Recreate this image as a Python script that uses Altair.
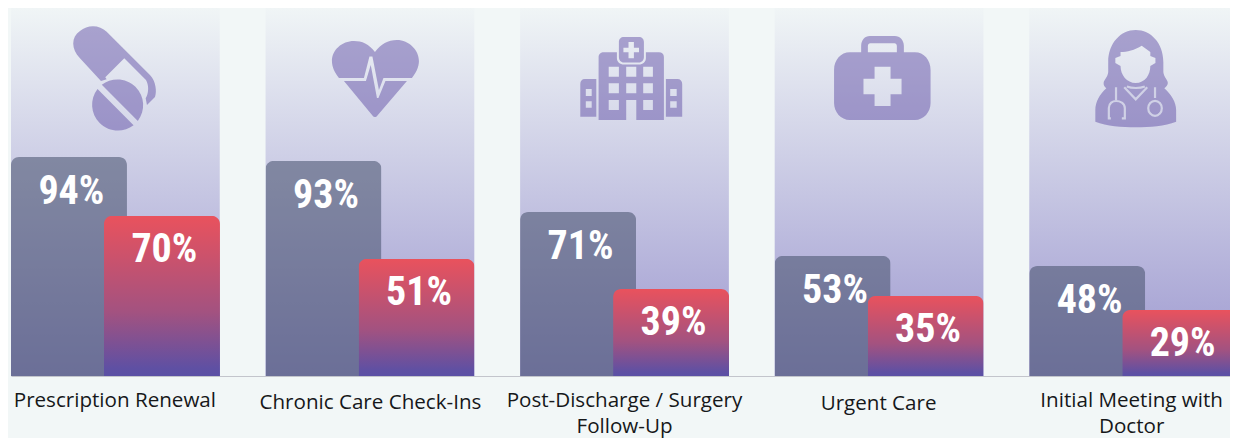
import re
import altair as alt
import pandas as pd

categories = ["Prescription Renewal", "Chronic Care Check-Ins", "Post-Discharge / Surgery Follow-Up", "Urgent Care", "Initial Meeting with Doctor"]
label_lines = [["Prescription Renewal"], ["Chronic Care Check-Ins"], ["Post-Discharge / Surgery", "Follow-Up"], ["Urgent Care"], ["Initial Meeting with", "Doctor"]]
first_labels = ["94%", "93%", "71%", "53%", "48%"]
second_labels = ["70%", "51%", "39%", "35%", "29%"]
# bar heights, in percent
first_values = [95.2, 93.5, 71.3, 52.2, 47.8]
second_values = [69.6, 50.9, 37.8, 34.8, 28.7]

BG = "#f2f7f7"
Y_MAX = 160
PW, PH = 1219, 368


def shift(d, ox, oy):
    out = []
    for cmd, args in re.findall(r"([MLCAZ])([^MLCAZ]*)", d):
        n = [float(v) for v in re.findall(r"-?[\d.]+", args)]
        if cmd == "A":
            parts = [f"{n[0]:.2f}", f"{n[1]:.2f}", "0", str(int(n[3])), str(int(n[4])), f"{n[5] - ox:.2f}", f"{n[6] - oy:.2f}"]
        else:
            parts = [f"{v - (ox if i % 2 == 0 else oy):.2f}" for i, v in enumerate(n)]
        out.append(cmd + " ".join(parts))
    return "".join(out)


def hole(x0, y0, x1, y1):
    return f"M{x0} {y0}L{x0} {y1}L{x1} {y1}L{x1} {y0}Z"


pill = ("M106.7 31.7L150 75C156 81 157 92 155 97L147 105L145.7 98.3C149 93 149 85 146 80L124.3 58.3L105.3 77.3L106.7 79.3L101 81"
        "L80 58.3C71 49 71 37 80 31C88 24 100 25 106.7 31.7Z"
        "M101.8 84.85A25.7 25.7 0 0 1 137.85 120.9Z"
        "M133.6 125.15A25.7 25.7 0 0 1 97.55 89.09Z")

heart = ("M375 52C381 44 388 40 397 40C409 40 419 50 419 61C419 67 416 73 412 78L383.5 78L379 90L372.5 56.5L369.5 56.5L364 78L339 78"
         "C335 73 332 67 332 61C332 50 342 41 354 41C362 41 369 44 375 52Z"
         "M344 81L366 81L370.8 65L377 98L378.5 98L385.5 81L407 81L377.5 115.5C376 117.5 374 117.5 372.5 115.5Z")

hospital = ("M598.7 57C598.7 54 601 52.3 604 52.3L617 52.3L617 58C617 62 620 64.5 624 64.5L639 64.5C643 64.5 646 62 646 58L646 52.3L659 52.3"
            "C662 52.3 664 54 664 57L664 120L636.4 120L636.4 100L626.3 100L626.3 120L598.7 120Z"
            + hole(608.8, 66.7, 619, 76.7) + hole(626.3, 66.7, 636.4, 76.7) + hole(643.3, 66.7, 653, 76.7)
            + hole(608.8, 83.3, 619, 93.3) + hole(626.3, 83.3, 636.4, 93.3) + hole(643.3, 83.3, 653, 93.3)
            + hole(608.8, 100, 619, 110) + hole(643.3, 100, 653, 110)
            + "M619 42C619 39 621 37 624 37L639 37C642 37 644 39 644 42L644 57C644 60 642 62.5 639 62.5L624 62.5C621 62.5 619 60 619 57Z"
            + "M628.6 42L628.6 47.7L623.5 47.7L623.5 52.3L628.6 52.3L628.6 58.3L634 58.3L634 52.3L639.1 52.3L639.1 47.7L634 47.7L634 42Z"
            + "M580.4 84C580.4 81 582 79 585 79L596.4 79L596.4 116.7L580.4 116.7Z" + hole(585.9, 89, 591.8, 96) + hole(585.9, 101.3, 591.8, 107.7)
            + "M666 79L677.5 79C680.5 79 682.3 81 682.3 84L682.3 116.7L666 116.7Z" + hole(670.3, 89, 676.8, 96) + hole(670.3, 101.3, 676.8, 107.7))

kit = ("M850 52.3L861.3 52.3L861.3 46C861.3 40 865 36 870 36L895 36C900 36 904 40 904 46L904 52.3L915 52.3"
       "C924 52.3 930.7 60 930.7 70L930.7 103C930.7 112 924 120 915 120L850 120C841 120 834.2 112 834.2 103L834.2 70C834.2 60 841 52.3 850 52.3Z"
       "M868 52.3L897 52.3L897 46C897 44.5 896 43.3 894.5 43.3L870.5 43.3C869 43.3 868 44.5 868 46Z"
       "M874.7 66.7L874.7 78.7L863.6 78.7L863.6 94.3L874.7 94.3L874.7 106L890.7 106L890.7 94.3L901.7 94.3L901.7 78.7L890.7 78.7L890.7 66.7Z")

doctor = ("M1135.9 30C1151 30 1163.5 43 1163.5 62L1163.5 72C1164 77 1168 80 1168 83C1168 85 1166 87 1164.5 88.3C1171 94 1176.3 102 1176.3 110"
          "L1176.3 121.7C1165 126 1150 127.3 1135.9 127.3C1122 127.3 1107 126 1095.5 121.7L1095.5 110C1095.5 102 1100 94 1106.5 88.3"
          "C1105 87 1103.5 85 1103.8 83C1104 80 1108 77 1108.4 72L1108.4 62C1108.4 43 1121 30 1135.9 30Z"
          "M1141.9 45.7C1135 50 1127 52 1120.7 52L1120.7 56L1115.5 58L1115.5 63L1120.7 66C1120.7 75 1127 83 1135.9 83"
          "C1145 83 1150.5 75 1150.5 66L1155.6 63L1155.6 58L1150.5 56L1150.5 52Z")

doctor_lines = ("M1116.2 87.3L1116.2 100M1111 118.3L1109 118.3L1109 108C1109 103 1113 101 1116.2 101C1120 101 1125 103 1125 108L1125 118.3L1122 118.3"
                "M1155.2 87.3L1155.2 98M1124.4 87.3L1135.9 99.3L1147.4 87.3M1127 86.5C1132 88.5 1140 88.5 1145 86.5"
                "M1162 108.3A6.8 7.5 0 1 1 1148.4 108.3A6.8 7.5 0 1 1 1162 108.3Z")

icon_paths = [shift(pill, 115.4, 85), shift(heart, 370, 85), shift(hospital, 624.6, 85), shift(kit, 879.2, 85), shift(doctor, 1133.8, 85)]
doctor_overlay = shift(doctor_lines, 1133.8, 85)

df = pd.DataFrame({"category": categories, "first": first_values, "second": second_values,
                   "first_label": first_labels, "second_label": second_labels})

x_enc = alt.X("category:N", sort=categories, title=None,
              scale=alt.Scale(paddingInner=0.18, paddingOuter=0, range=[0, 1227]),
              axis=alt.Axis(labels=False, ticks=False, title=None, domain=True, domainColor="#c3c5cc", domainWidth=1.2))
y_scale = alt.Scale(domain=[0, Y_MAX], nice=False)


def vgrad(*stops):
    return alt.Gradient(gradient="linear", x1=0, y1=0, x2=0, y2=1,
                        stops=[alt.GradientStop(offset=o, color=c) for o, c in stops])


base = alt.Chart(df)
panels = base.mark_rect(color=vgrad((0, "#f0f5f6"), (1, "#9c97cf"))).encode(x=x_enc, y=alt.value(0), y2=alt.value(PH))
first_bars = base.mark_bar(width=116, xOffset=-46.4, cornerRadiusTopLeft=8, cornerRadiusTopRight=8,
                           color="#434f69", fillOpacity=0.55).encode(
    x=x_enc, y=alt.Y("first:Q", scale=y_scale, axis=None))
second_bars = base.mark_bar(width=116, xOffset=46.6, cornerRadiusTopLeft=8, cornerRadiusTopRight=8,
                            color=vgrad((0, "#e9525d"), (0.6, "#a35280"), (0.95, "#5f50a3"), (1, "#5b50a5"))).encode(
    x=x_enc, y=alt.Y("second:Q", scale=y_scale, axis=None))

num_font = dict(font="'Noto Sans ExtraCondensed', 'Noto Sans Extra Condensed', 'Roboto Condensed', 'Open Sans Condensed', 'Noto Sans Condensed', 'DejaVu Sans Condensed', sans-serif",
                fontSize=40, fontWeight="bold", color="#ffffff", baseline="middle", align="center")
first_text = base.mark_text(xOffset=-44, yOffset=35, **num_font).encode(
    x=x_enc, y=alt.Y("first:Q", scale=y_scale, axis=None), text="first_label:N")
second_text = base.mark_text(xOffset=49, yOffset=34, **num_font).encode(
    x=x_enc, y=alt.Y("second:Q", scale=y_scale, axis=None), text="second_label:N")

label_dy = [14.5, 17, 15, 18, 15]
label_dx = [-0.5, 0.5, 0, -0.5, -2]
label_layers = []
for cat, lines, dy, dx in zip(categories, label_lines, label_dy, label_dx):
    label_layers.append(
        alt.Chart(pd.DataFrame({"category": [cat], "lines": [lines]})).mark_text(
            font="Open Sans", fontSize=20.6, fontWeight=500, color="#16181a", align="center", baseline="top",
            lineHeight=26, dx=dx, dy=dy).encode(x=x_enc, y=alt.value(PH), text="lines:N"))

icon_layers = []
for cat, path in zip(categories, icon_paths):
    icon_layers.append(
        alt.Chart(pd.DataFrame({"category": [cat]})).mark_point(
            shape=path, size=4, filled=True, fill="#523d9d", fillOpacity=0.44, opacity=1, strokeWidth=0).encode(
            x=x_enc, y=alt.value(77)))

overlay = alt.Chart(pd.DataFrame({"category": [categories[4]]})).mark_point(
    shape=doctor_overlay, size=4, filled=False, stroke="#d0d1e6", strokeWidth=2.2, opacity=1).encode(
    x=x_enc, y=alt.value(77))

chart = alt.layer(panels, *icon_layers, overlay, first_bars, second_bars, first_text, second_text, *label_layers).properties(
    width=PW, height=PH, background=BG,
    padding={"left": 3, "top": 0, "right": 0, "bottom": 62},
    autosize=alt.AutoSizeParams(type="none"),
).configure_view(stroke=None)

chart.save("out.html", embed_options={"renderer": "svg", "actions": False})
